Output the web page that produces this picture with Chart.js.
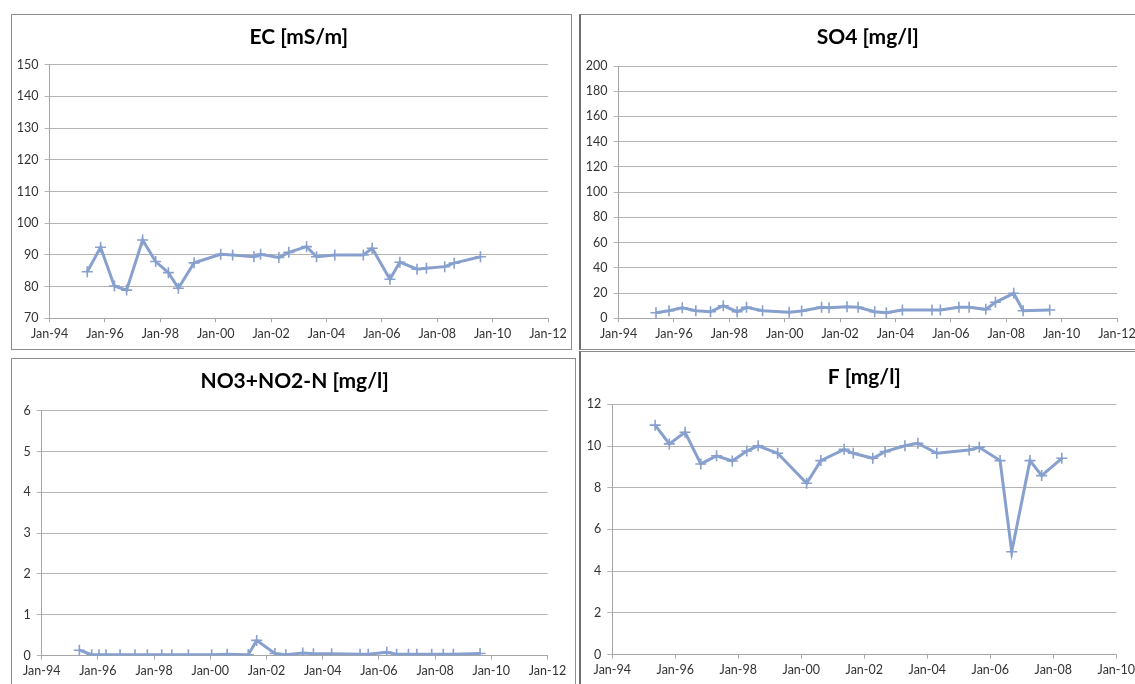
<!DOCTYPE html>
<html>
<head>
<meta charset="utf-8">
<title>Water quality</title>
<script src="https://cdn.jsdelivr.net/npm/chart.js@4/dist/chart.umd.min.js"></script>
<style>
  html, body { margin: 0; padding: 0; background: #fff; overflow: hidden; }
  body { width: 1135px; height: 684px; position: relative; }
  .panel { position: absolute; border: 1px solid #8c8c8c; background: #fff; }
  .panel.right { border-left: 2px solid #6f6f6f; }
  canvas { display: block; }
</style>
</head>
<body>
<div class="panel" style="left:11px;top:14px;"><canvas id="ec" width="559" height="334"></canvas></div>
<div class="panel right" style="left:579px;top:14px;"><canvas id="so4" width="560" height="334"></canvas></div>
<div class="panel" style="left:11px;top:358px;"><canvas id="no3" width="563" height="330"></canvas></div>
<div class="panel right" style="left:579px;top:351px;"><canvas id="f" width="560" height="340"></canvas></div>
<script>
// tick labels on the time axis (every 2 years)
const xTickLabels = ['Jan-94', 'Jan-96', 'Jan-98', 'Jan-00', 'Jan-02', 'Jan-04', 'Jan-06', 'Jan-08', 'Jan-10', 'Jan-12'];

// EC [mS/m]
const ecDates = [1995.36, 1995.84, 1996.34, 1996.78, 1997.36, 1997.83, 1998.29, 1998.65, 1999.22, 2000.18, 2000.61, 2001.38, 2001.62, 2002.28, 2002.64, 2003.28, 2003.64, 2004.30, 2005.33, 2005.65, 2006.29, 2006.65, 2007.27, 2007.61, 2008.27, 2008.61, 2009.56];
const ecValues = [84.7, 92.4, 80.2, 78.9, 94.7, 87.9, 84.4, 79.5, 87.5, 90.2, 90.0, 89.4, 90.2, 89.2, 90.8, 92.6, 89.4, 90.0, 90.0, 92.1, 82.3, 87.7, 85.5, 85.8, 86.3, 87.4, 89.4];

// SO4 [mg/l]
const so4Dates = [1995.35, 1995.82, 1996.30, 1996.79, 1997.32, 1997.78, 1998.28, 1998.62, 1999.20, 2000.16, 2000.61, 2001.33, 2001.60, 2002.25, 2002.65, 2003.25, 2003.67, 2004.25, 2005.32, 2005.62, 2006.29, 2006.66, 2007.26, 2007.61, 2008.27, 2008.61, 2009.57];
const so4Values = [4.4, 6.0, 8.4, 6.0, 5.2, 10.0, 5.2, 8.7, 6.0, 4.8, 5.8, 8.7, 8.4, 9.2, 8.7, 5.2, 4.4, 6.6, 6.6, 6.6, 8.7, 8.7, 7.1, 12.7, 19.8, 6.0, 6.6];

// NO3+NO2-N [mg/l]
const no3Dates = [1995.34, 1995.78, 1996.04, 1996.29, 1996.79, 1997.32, 1997.76, 1998.27, 1998.63, 1999.22, 2000.05, 2000.60, 2001.35, 2001.65, 2002.30, 2002.69, 2003.29, 2003.67, 2004.32, 2005.33, 2005.62, 2006.28, 2006.63, 2007.05, 2007.35, 2007.88, 2008.29, 2008.65, 2009.60];
const no3Values = [0.13, 0.02, 0.02, 0.02, 0.02, 0.02, 0.02, 0.02, 0.02, 0.02, 0.02, 0.03, 0.02, 0.37, 0.05, 0.02, 0.06, 0.04, 0.04, 0.03, 0.03, 0.08, 0.03, 0.03, 0.03, 0.03, 0.03, 0.03, 0.05];

// F [mg/l]
const fDates = [1995.36, 1995.81, 1996.31, 1996.81, 1997.31, 1997.81, 1998.27, 1998.63, 1999.25, 2000.17, 2000.62, 2001.36, 2001.65, 2002.27, 2002.66, 2003.29, 2003.70, 2004.30, 2005.33, 2005.65, 2006.31, 2006.68, 2007.26, 2007.63, 2008.27];
const fValues = [11.0, 10.1, 10.66, 9.14, 9.53, 9.28, 9.76, 10.01, 9.65, 8.21, 9.30, 9.84, 9.65, 9.41, 9.73, 10.01, 10.13, 9.65, 9.81, 9.94, 9.30, 4.93, 9.30, 8.58, 9.41];

const lineColor = '#87a0cd';
const titleSize = 21;

Chart.defaults.font.family = 'Lato, "Open Sans", sans-serif';
Chart.defaults.animation = false;

// box = canvas rect on the page, plot = wanted plot area on the page
function drawPanel(id, box, plot, title, titleY, xMax, yMin, yMax, yStep, dates, values) {
    const left = plot.l - box.x;
    const right = box.w - (plot.r - box.x);
    const top = plot.t - box.y;
    const bottom = box.h - (plot.b - box.y);
    const lh = titleSize * 1.2;
    const tCenter = titleY - box.y;

    const points = dates.map((d, i) => ({ x: d, y: values[i] }));

    new Chart(document.getElementById(id), {
        type: 'line',
        data: {
            datasets: [{
                label: title,
                data: points,
                borderColor: lineColor,
                backgroundColor: lineColor,
                borderWidth: 3,
                pointStyle: 'cross',
                pointRadius: 5.5,
                pointBorderWidth: 1.6,
                tension: 0
            }]
        },
        options: {
            responsive: false,
            layout: { padding: { left: 0, right: right, top: 0, bottom: 0 } },
            plugins: {
                legend: { display: false },
                tooltip: { enabled: false },
                title: {
                    display: true,
                    fullSize: false, // centre it over the plot area
                    text: title,
                    color: '#000',
                    font: { size: titleSize, weight: 'bold' },
                    padding: { top: tCenter - lh / 2, bottom: top - tCenter - lh / 2 }
                }
            },
            scales: {
                x: {
                    type: 'linear',
                    min: 1994,
                    max: xMax,
                    afterFit: s => { s.height = bottom; },
                    afterBuildTicks: s => {
                        s.ticks = [];
                        for (let v = 1994; v <= xMax; v += 2) s.ticks.push({ value: v });
                    },
                    ticks: {
                        autoSkip: false,
                        maxRotation: 0,
                        padding: 4,
                        color: '#333',
                        font: { size: 12.5 },
                        callback: v => xTickLabels[(v - 1994) / 2]
                    },
                    grid: { drawOnChartArea: false, drawTicks: true, tickLength: 4, color: '#a6a6a6' },
                    border: { color: '#a6a6a6' }
                },
                y: {
                    min: yMin,
                    max: yMax,
                    afterFit: s => { s.width = left; },
                    ticks: {
                        stepSize: yStep,
                        padding: 6,
                        color: '#333',
                        font: { size: 12.5 }
                    },
                    grid: { color: '#b4b4b4', tickLength: 5 },
                    border: { color: '#a6a6a6' }
                }
            }
        }
    });
}

drawPanel('ec', { x: 12, y: 15, w: 559, h: 334 }, { l: 49.6, r: 548, t: 64.7, b: 318.3 },
    'EC [mS/m]', 37.5, 2012, 70, 150, 10, ecDates, ecValues);
drawPanel('so4', { x: 581, y: 15, w: 560, h: 334 }, { l: 618.6, r: 1117, t: 66, b: 318.3 },
    'SO4 [mg/l]', 37, 2012, 0, 200, 20, so4Dates, so4Values);
drawPanel('no3', { x: 12, y: 359, w: 563, h: 330 }, { l: 41.7, r: 547.5, t: 410.7, b: 655.5 },
    'NO3+NO2-N [mg/l]', 381.5, 2012, 0, 6, 1, no3Dates, no3Values);
drawPanel('f', { x: 581, y: 352, w: 560, h: 340 }, { l: 612.3, r: 1116.3, t: 404.3, b: 654.5 },
    'F [mg/l]', 377, 2010, 0, 12, 2, fDates, fValues);
</script>
</body>
</html>
